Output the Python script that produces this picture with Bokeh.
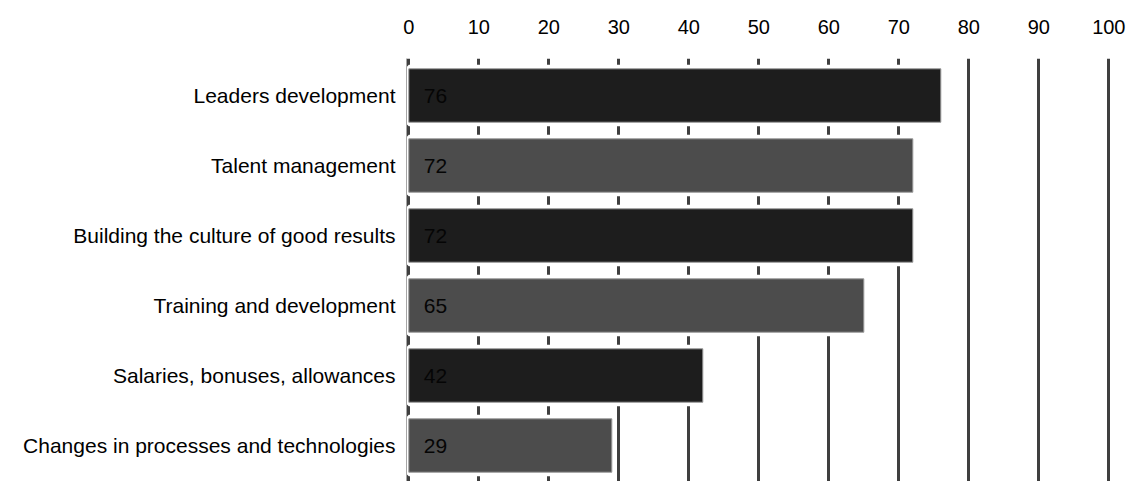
from bokeh.plotting import figure
from bokeh.models import Range1d, FixedTicker, ColumnDataSource
from bokeh.embed import file_html
from bokeh.resources import INLINE
from bokeh.core.properties import value

# ---- data ----
categories = [
    "Leaders development",
    "Talent management",
    "Building the culture of good results",
    "Training and development",
    "Salaries, bonuses, allowances",
    "Changes in processes and technologies",
]
values = [76, 72, 72, 65, 42, 29]
x_ticks = [0, 10, 20, 30, 40, 50, 60, 70, 80, 90, 100]

# ---- styles ----
bar_colors = ["#1d1d1d", "#4c4c4c", "#1d1d1d", "#4c4c4c", "#1d1d1d", "#4c4c4c"]
FONT = "Liberation Sans"

pos = list(range(len(categories)))
source = ColumnDataSource(dict(
    y=pos,
    left=[0] * len(values),
    right=values,
    label=[str(v) for v in values],
    color=bar_colors,
))

p = figure(
    width=1136, height=481,
    x_range=Range1d(-0.33, 100.24),
    y_range=Range1d(5.514, -0.529),
    x_axis_location="above",
    output_backend="svg",
    toolbar_location=None,
    min_border_left=406, min_border_right=26,
    min_border_top=58, min_border_bottom=0,
)
p.outline_line_color = None
p.background_fill_color = "white"
p.border_fill_color = "white"

# grid
p.xgrid.ticker = FixedTicker(ticks=x_ticks)
p.xgrid.grid_line_color = "#3f3f3f"
p.xgrid.grid_line_width = 3
p.ygrid.grid_line_color = None

# white halo under each bar (hides grid lines near bars)
p.hbar(y="y", left="left", right="right", height=0.763, source=source,
       fill_color="white", line_color="white", line_width=8)
# the bars
p.hbar(y="y", left="left", right="right", height=0.763, source=source,
       fill_color="color", line_color="#9a9a9a", line_width=1)

# value labels inside bars
p.text(x="left", y="y", text="label", source=source,
       x_offset=15, text_align="left", text_baseline="middle",
       text_font=value(FONT), text_font_size="21px", text_color="#050505")

# top x axis
xa = p.xaxis[0]
xa.ticker = FixedTicker(ticks=x_ticks)
xa.axis_line_color = None
xa.major_tick_line_color = None
xa.minor_tick_line_color = None
xa.major_tick_out = 0
xa.major_label_standoff = 25
xa.major_label_text_font = FONT
xa.major_label_text_font_size = "20px"
xa.major_label_text_color = "#000000"

# left y axis with category labels
ya = p.yaxis[0]
ya.ticker = FixedTicker(ticks=pos)
ya.major_label_overrides = {i: c for i, c in zip(pos, categories)}
ya.axis_line_color = "#a6a6a6"
ya.axis_line_width = 1
ya.major_tick_line_color = None
ya.minor_tick_line_color = None
ya.major_tick_out = 0
ya.major_label_standoff = 11
ya.major_label_text_font = FONT
ya.major_label_text_font_size = "21px"
ya.major_label_text_color = "#000000"

open("out.html", "w").write(file_html(p, INLINE))
